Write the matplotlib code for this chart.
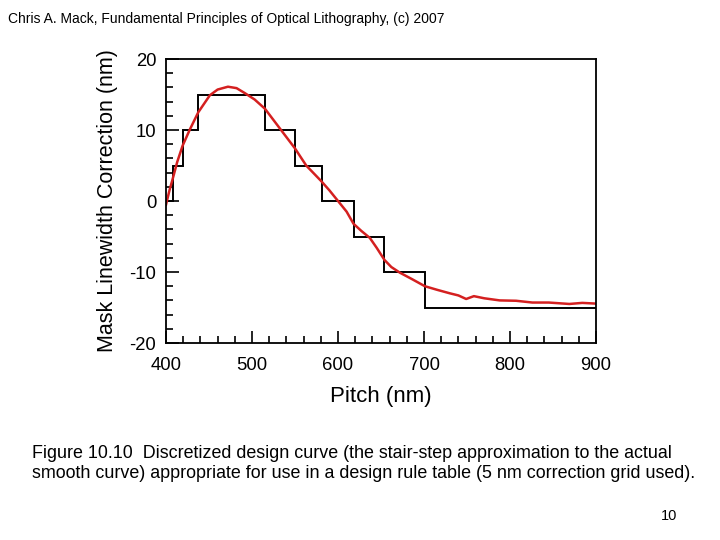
import numpy as np
import matplotlib.pyplot as plt
from matplotlib.ticker import MultipleLocator

plt.rcParams["font.family"] = ["Liberation Sans", "DejaVu Sans"]
plt.rcParams["axes.unicode_minus"] = False

# stair-step design curve (5 nm correction grid)
step_edges = [400, 407.7, 419.3, 437.5, 515, 550, 581, 618, 654, 701, 900]
step_levels = [0, 5, 10, 15, 10, 5, 0, -5, -10, -15]

# smooth curve
pitch = [400, 404, 407.7, 413, 419.3, 427.8, 437.5, 451, 460, 472, 482, 491.6,
         503, 515, 530, 540, 550, 563, 580.5, 590, 600, 610, 618, 627, 637,
         645, 654, 662, 672, 686, 701, 715, 730, 740, 749, 758, 770, 788, 807,
         826, 845, 869, 884, 900]
correction = [-0.5, 1.5, 3.1, 5.5, 7.8, 10.1, 12.5, 14.9, 15.7, 16.1, 15.9, 15.2,
              14.3, 13.0, 10.6, 9.0, 7.4, 5.0, 2.8, 1.5, 0.0, -1.5, -3.2, -4.2, -5.2,
              -6.6, -8.3, -9.3, -10.1, -11.0, -12.0, -12.5, -13.0, -13.3, -13.8, -13.4,
              -13.7, -14.0, -14.05, -14.3, -14.3, -14.5, -14.35, -14.45]

fig = plt.figure(figsize=(7.2, 5.4), dpi=100)
ax = fig.add_axes([0.2306, 0.3648, 0.5972, 0.5259])

ax.stairs(step_levels, step_edges, baseline=None, color="black", linewidth=1.4)
ax.plot(pitch, correction, color="#d42020", linewidth=1.8)

ax.set_xlim(400, 900)
ax.set_ylim(-20, 20)
ax.xaxis.set_major_locator(MultipleLocator(100))
ax.xaxis.set_minor_locator(MultipleLocator(20))
ax.yaxis.set_major_locator(MultipleLocator(10))
ax.yaxis.set_minor_locator(MultipleLocator(2))
ax.tick_params(which="both", direction="in", top=False, right=False,
               width=1.2, labelsize=13.3)
ax.tick_params(which="major", length=9)
ax.tick_params(which="minor", length=5)
ax.tick_params(axis="x", which="major", pad=10)
ax.tick_params(axis="y", which="major", pad=7)
for s in ax.spines.values():
    s.set_linewidth(1.3)

ax.set_xlabel("Pitch (nm)", fontsize=16, labelpad=9)
ax.set_ylabel("Mask Linewidth Correction (nm)", fontsize=15.5, labelpad=8)

fig.text(0.011, 0.978, "Chris A. Mack, Fundamental Principles of Optical Lithography, (c) 2007",
         fontsize=10, va="top", ha="left")
fig.text(0.044, 0.1417,
         "Figure 10.10  Discretized design curve (the stair-step approximation to the actual\n"
         "smooth curve) appropriate for use in a design rule table (5 nm correction grid used).",
         fontsize=12.9, va="center", ha="left", linespacing=1.2)
fig.text(0.94, 0.044, "10", fontsize=10.5, ha="right", va="center")

fig.savefig("out.png", dpi=100)
